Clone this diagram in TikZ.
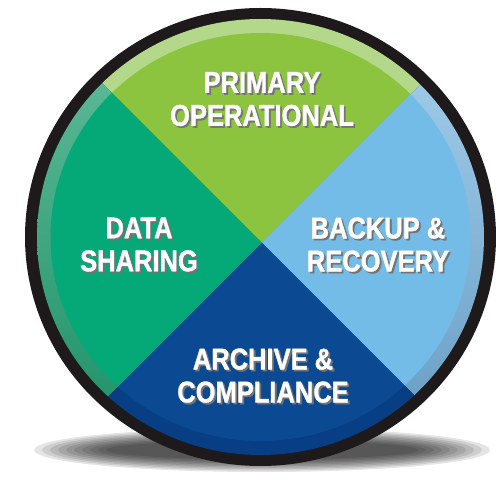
\documentclass[tikz,border=0pt]{standalone}
\usepackage{fontspec}
\newfontfamily\slicefont{Liberation Sans}[FakeStretch=0.85,FakeBold=1.2]
\definecolor{rim}{HTML}{1E1A1B}
\definecolor{primgreen}{HTML}{8CC43F}
\definecolor{primband}{HTML}{B3D889}
\definecolor{sharegreen}{HTML}{05A877}
\definecolor{sharebandtop}{HTML}{66C09F}
\definecolor{sharebandbot}{HTML}{178B61}
\definecolor{backblue}{HTML}{74BCE8}
\definecolor{backbandtop}{HTML}{AAD3EF}
\definecolor{backbandbot}{HTML}{5F97BE}
\definecolor{archblue}{HTML}{0B4A92}
\definecolor{archband}{HTML}{083E83}
\newcommand\shadowtext[1]{\rlap{\kern1.8pt\raisebox{-1.8pt}{\color{black!55}#1}}#1}

\begin{document}
\begin{tikzpicture}[x=1pt,y=-1pt]
\tikzstyle{every node}+=[inner sep=0pt]
\tikzstyle{slice text}=[align=center,text=white,font=\slicefont\bfseries\fontsize{30}{33}\selectfont]
\useasboundingbox (0,0) rectangle (499,481);
% shadow under the disc
\foreach \k in {0,...,9}
  \fill [black,opacity=0.1] (262,450) ellipse ({228-8*\k} and {22-1.4*\k});
% rim
\fill [rim] (260.5,237) ellipse (235.5 and 229);
% light band
\begin{scope}
\clip (260.5,237) ellipse (223.5 and 218);
\fill [primband] (262,243) -- (20,1) -- (504,1) -- cycle;
\shade [top color=sharebandtop,bottom color=sharebandbot] (262,243) -- (20,1) -- (20,485) -- cycle;
\shade [top color=backbandtop,bottom color=backbandbot] (262,243) -- (504,1) -- (504,485) -- cycle;
\fill [archband] (262,243) -- (20,485) -- (504,485) -- cycle;
\end{scope}
% slices
\begin{scope}
\clip (260.5,237) ellipse (210 and 204);
\fill [primgreen] (262,243) -- (20,1) -- (504,1) -- cycle;
\fill [sharegreen] (262,243) -- (20,1) -- (20,485) -- cycle;
\fill [backblue] (262,243) -- (504,1) -- (504,485) -- cycle;
\fill [archblue] (262,243) -- (20,485) -- (504,485) -- cycle;
\end{scope}
% labels
\node [slice text] (prim) at (262,100) {\shadowtext{PRIMARY}\\\shadowtext{OPERATIONAL}};
\node [slice text] (share) at (139,245.5) {\shadowtext{DATA}\\\shadowtext{SHARING}};
\node [slice text] (backup) at (378,245.5) {\shadowtext{BACKUP \&}\\\shadowtext{RECOVERY}};
\node [slice text] (archive) at (263,376.5) {\shadowtext{ARCHIVE \&}\\\shadowtext{COMPLIANCE}};
\end{tikzpicture}
\end{document}
